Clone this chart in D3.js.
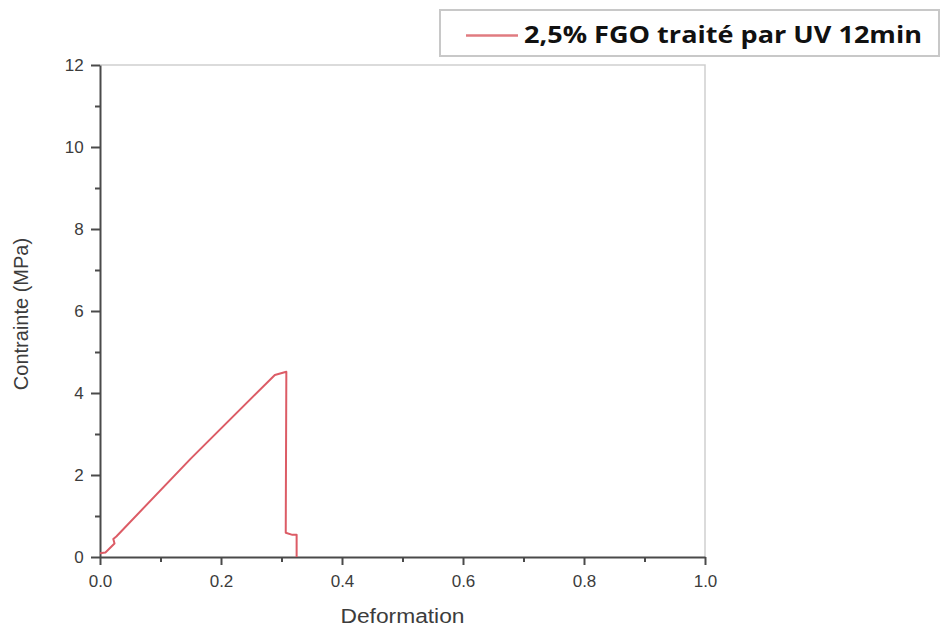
<!DOCTYPE html>
<html>
<head>
<meta charset="utf-8">
<script src="https://cdn.jsdelivr.net/npm/d3@7"></script>
<style>
  html, body { margin: 0; padding: 0; background: #fff; }
  svg { display: block; }
</style>
</head>
<body>
<svg id="chart" width="942" height="629"></svg>
<script>
// Stress–strain curve of the 2,5% FGO sample treated by UV for 12 min
const strain = [0, 0.009, 0.024, 0.022, 0.027, 0.150, 0.289, 0.308, 0.307, 0.318, 0.325, 0.325];
const stress = [0.09, 0.11, 0.33, 0.44, 0.50, 2.40, 4.44, 4.52, 0.59, 0.54, 0.54, 0];
const seriesName = "2,5% FGO traité par UV 12min";

const xTicks = [0, 0.2, 0.4, 0.6, 0.8, 1.0];
const xMinor = [0.1, 0.3, 0.5, 0.7, 0.9];
const yTicks = [0, 2, 4, 6, 8, 10, 12];
const yMinor = [1, 3, 5, 7, 9, 11];

const xTitle = "Deformation";
const yTitle = "Contrainte (MPa)";

const svg = d3.select("#chart");
const plotLeft = 100, plotRight = 705, plotTop = 65, plotBottom = 557;

const x = d3.scaleLinear().domain([0, 1]).range([plotLeft, plotRight]);
const y = d3.scaleLinear().domain([0, 12]).range([plotBottom, plotTop]);

const axisColor = "#4a4a4a";
const tickFont = "Liberation Sans, Arial, sans-serif";

// light frame on top and right
svg.append("path")
  .attr("d", `M${plotLeft},${plotTop}H${plotRight}V${plotBottom}`)
  .attr("fill", "none")
  .attr("stroke", "#cfcfcf")
  .attr("stroke-width", 1.5);

// x axis
const gx = svg.append("g").attr("transform", `translate(0,${plotBottom})`);
gx.call(d3.axisBottom(x).tickValues(xTicks).tickFormat(d3.format(".1f")).tickSize(8).tickSizeOuter(0));
gx.append("g").call(d3.axisBottom(x).tickValues(xMinor).tickFormat("").tickSize(5).tickSizeOuter(0))
  .select(".domain").remove();

// y axis
const gy = svg.append("g").attr("transform", `translate(${plotLeft},0)`);
gy.call(d3.axisLeft(y).tickValues(yTicks).tickFormat(d3.format("d")).tickSize(9).tickSizeOuter(0));
gy.append("g").call(d3.axisLeft(y).tickValues(yMinor).tickFormat("").tickSize(5).tickSizeOuter(0))
  .select(".domain").remove();

svg.selectAll(".domain, .tick line")
  .attr("stroke", axisColor)
  .attr("stroke-width", 2);
svg.selectAll(".tick text")
  .attr("fill", "#3c3c3c")
  .attr("font-family", tickFont)
  .attr("font-size", 17);
gx.selectAll(".tick text").attr("dy", "1.1em");
gy.selectAll(".tick text").attr("dx", "-0.25em");

// axis titles
svg.append("text")
  .attr("x", (plotLeft + plotRight) / 2)
  .attr("y", 623)
  .attr("text-anchor", "middle")
  .attr("font-family", tickFont)
  .attr("font-size", 20)
  .attr("fill", "#3c3c3c")
  .attr("textLength", 124)
  .attr("lengthAdjust", "spacingAndGlyphs")
  .text(xTitle);

svg.append("text")
  .attr("transform", `translate(28,${(plotTop + plotBottom) / 2 + 3}) rotate(-90)`)
  .attr("text-anchor", "middle")
  .attr("font-family", tickFont)
  .attr("font-size", 20)
  .attr("fill", "#3c3c3c")
  .text(yTitle);

// curve
const points = strain.map((s, i) => [s, stress[i]]);
svg.append("path")
  .datum(points)
  .attr("fill", "none")
  .attr("stroke", "#dc5c66")
  .attr("stroke-width", 2)
  .attr("stroke-linejoin", "round")
  .attr("d", d3.line().x(d => x(d[0])).y(d => y(d[1])));

// legend
const legend = svg.append("g");
legend.append("rect")
  .attr("x", 440).attr("y", 10)
  .attr("width", 499).attr("height", 46)
  .attr("fill", "#fff")
  .attr("stroke", "#c8c8c8")
  .attr("stroke-width", 2);
legend.append("line")
  .attr("x1", 466).attr("x2", 518)
  .attr("y1", 35.5).attr("y2", 35.5)
  .attr("stroke", "#e07b80")
  .attr("stroke-width", 2.5);
legend.append("text")
  .attr("x", 524).attr("y", 43)
  .attr("font-family", "Open Sans, sans-serif")
  .attr("font-weight", "bold")
  .attr("font-size", 23)
  .attr("fill", "#111")
  .attr("textLength", 398)
  .attr("lengthAdjust", "spacingAndGlyphs")
  .text(seriesName);
</script>
</body>
</html>
